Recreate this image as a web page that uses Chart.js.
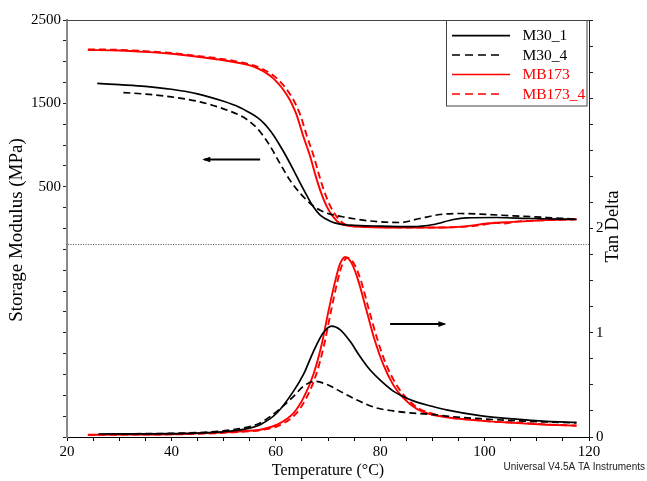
<!DOCTYPE html>
<html>
<head>
<meta charset="utf-8">
<script src="https://cdn.jsdelivr.net/npm/chart.js@4.4.1/dist/chart.umd.min.js"></script>
<style>
html,body{margin:0;padding:0;background:#fff;}
canvas{display:block;}
</style>
</head>
<body>
<canvas id="c" width="647" height="481"></canvas>
<script>
// ---- Data ----
const seriesNames = ["M30_1", "M30_4", "MB173", "MB173_4"];

// Storage modulus (MPa) vs temperature (°C)
const m30_1_E_T = [25.8,30,35,40,45,50,53,55.1,56.5,57.6,58.6,59.5,61.5,63.4,64.7,65.9,67.2,68.5,70.4,72.3,74.2,80,86.3,90.2,94,96.6,102.3,108.7,117.6];
const m30_1_E   = [1740,1725,1705,1670,1615,1525,1455,1385,1330,1270,1200,1125,920,700,540,400,260,160,88,52,40,28,22,48,108,128,132,120,108];

const m30_4_E_T = [30.8,35,40,45,48,51.3,53,54.4,55.8,57,58.9,60.8,62.7,64.7,66.6,68.5,70.4,73.6,76.7,80,83.8,87.6,91.5,95.3,99.1,105.5,111.9,117.6];
const m30_4_E   = [1630,1612,1578,1525,1475,1405,1360,1310,1240,1160,990,780,580,420,300,220,172,132,100,80,72,120,168,180,172,152,132,112];

const mb173_E_T = [24,30,35,40,45,50,53,55,56.5,57.6,58.6,59.5,60.3,61,61.8,62.7,63.4,64,65.3,66.6,67.5,68.5,69.8,71,72.3,74.2,77,80,86,92.7,96.6,100.4,105.5,111.9,117.6];
const mb173_E   = [2140,2134,2118,2095,2060,2018,1985,1955,1920,1885,1845,1800,1750,1700,1630,1540,1450,1360,1100,860,660,460,260,140,60,28,18,12,10,12,28,60,80,100,112];

const mb173_4_E_T = [24,30,35,40,45,50,53.5,55.7,57.2,58.3,59.3,60.2,61,61.7,62.5,63.4,64.1,64.7,66,67.3,68.2,69.2,70.5,71.7,73,75,78,82,88,93,96.5,100,102,103.5,106,112,117.6];
const mb173_4_E   = [2148,2142,2126,2104,2070,2030,1990,1955,1920,1885,1845,1800,1750,1700,1630,1540,1450,1360,1100,860,660,460,260,140,60,30,20,14,12,14,22,48,70,58,82,100,110];

// Tan delta vs temperature (°C)
const m30_1_tan_T = [26,35,40,45,50,55,57,60.2,63.4,65.3,67.2,69.1,70.7,72.3,74.2,76.1,78,80,82.5,85,87,89.5,92.7,99.1,105.5,111.9,117.6];
const m30_1_tan   = [0.029,0.03,0.032,0.038,0.05,0.085,0.118,0.23,0.44,0.6,0.82,1.0,1.063,1.03,0.92,0.775,0.647,0.545,0.44,0.375,0.335,0.3,0.26,0.205,0.173,0.15,0.14];

const m30_4_tan_T = [30.8,40,45,50,55,57,60.2,63.4,65.3,67.5,69.8,72.9,76.1,79.3,82.5,85.7,89.5,92.7,99.1,105.5,111.9,117.6];
const m30_4_tan   = [0.03,0.035,0.042,0.06,0.1,0.135,0.246,0.39,0.487,0.535,0.503,0.423,0.342,0.279,0.25,0.232,0.218,0.2,0.176,0.157,0.144,0.135];

const mb173_tan_T = [24,30,40,45,50,55,57,60.2,63.4,65.3,67.2,68.8,70.1,71.4,72.3,73.3,74.5,75.8,77.4,79,80.6,82.5,84.4,87,89.5,92.7,99.1,105.5,111.9,117.6];
const mb173_tan   = [0.022,0.023,0.027,0.035,0.045,0.06,0.07,0.118,0.23,0.375,0.6,0.89,1.21,1.5,1.66,1.727,1.67,1.5,1.21,0.92,0.695,0.5,0.375,0.27,0.22,0.19,0.157,0.135,0.118,0.108];

const mb173_4_tan_T = [24,30,40,45,50,55,57.5,60.6,63.8,65.7,67.6,69.2,70.5,71.8,72.7,73.7,74.9,76.3,77.9,79.5,81.1,83,84.9,87.5,90,92.7,99.1,102,105.5,111.9,117.6];
const mb173_4_tan   = [0.02,0.022,0.025,0.03,0.04,0.055,0.07,0.11,0.22,0.36,0.58,0.87,1.19,1.49,1.65,1.72,1.67,1.5,1.21,0.93,0.70,0.51,0.38,0.27,0.225,0.19,0.16,0.145,0.14,0.12,0.11];

// Axis ticks
const xTickLabels = [20, 40, 60, 80, 100, 120];
const modulusTickLabels = [500, 1500, 2500];
const tanTickLabels = [0, 1, 2];

// ---- Build ----
const pts = (xs, ys) => xs.map((x, i) => ({x: x, y: ys[i]}));
const RED = '#ff0000', BLACK = '#000000';
const DASH = [7, 4];
const serif = "'Liberation Serif', 'Times New Roman', serif";

function ds(label, xs, ys, color, dashed, axis, inLegend) {
  return {
    label: label, data: pts(xs, ys), yAxisID: axis,
    borderColor: color, backgroundColor: color, borderWidth: color === RED ? 1.9 : 1.7,
    borderDash: dashed ? DASH : [], showLine: true, pointRadius: 0,
    cubicInterpolationMode: 'monotone', fill: false, inLegend: inLegend
  };
}

const datasets = [
  ds(seriesNames[0], m30_1_E_T, m30_1_E, BLACK, false, 'y', true),
  ds(seriesNames[1], m30_4_E_T, m30_4_E, BLACK, true, 'y', true),
  ds(seriesNames[2], mb173_E_T, mb173_E, RED, false, 'y', true),
  ds(seriesNames[3], mb173_4_E_T, mb173_4_E, RED, true, 'y', true),
  ds(seriesNames[0] + ' tan', m30_1_tan_T, m30_1_tan, BLACK, false, 'y2', false),
  ds(seriesNames[1] + ' tan', m30_4_tan_T, m30_4_tan, BLACK, true, 'y2', false),
  ds(seriesNames[2] + ' tan', mb173_tan_T, mb173_tan, RED, false, 'y2', false),
  ds(seriesNames[3] + ' tan', mb173_4_tan_T, mb173_4_tan, RED, true, 'y2', false)
];

const decor = {
  id: 'decor',
  afterDraw(chart) {
    const ctx = chart.ctx, a = chart.chartArea;
    const sx = chart.scales.x, sy = chart.scales.y, s2 = chart.scales.y2;
    ctx.save();
    // top frame line
    ctx.strokeStyle = '#444'; ctx.lineWidth = 1; ctx.setLineDash([]);
    ctx.beginPath(); ctx.moveTo(a.left, a.top + 0.5); ctx.lineTo(a.right, a.top + 0.5); ctx.stroke();
    // dotted separator
    const yd = Math.round(sy.getPixelForValue(-190)) + 0.5;
    ctx.strokeStyle = '#666'; ctx.setLineDash([1.2, 1.3]);
    ctx.beginPath(); ctx.moveTo(a.left + 1, yd); ctx.lineTo(a.right, yd); ctx.stroke();
    ctx.setLineDash([]);
    // arrows
    function arrow(x1, y1, x2, y2) {
      ctx.strokeStyle = '#000'; ctx.fillStyle = '#000'; ctx.lineWidth = 2;
      ctx.beginPath(); ctx.moveTo(x1, y1); ctx.lineTo(x2, y2); ctx.stroke();
      const dir = Math.sign(x2 - x1);
      ctx.beginPath(); ctx.moveTo(x2 + dir * 2, y2); ctx.lineTo(x2 - dir * 6, y2 - 2.8); ctx.lineTo(x2 - dir * 6, y2 + 2.8); ctx.closePath(); ctx.fill();
    }
    const ya = sy.getPixelForValue(828);
    arrow(sx.getPixelForValue(57), ya, sx.getPixelForValue(46.3), ya);
    const yb = s2.getPixelForValue(1.083);
    arrow(sx.getPixelForValue(81.9), yb, sx.getPixelForValue(92.3), yb);
    // legend box
    const lx = 446.5, ly = a.top + 0.5, lw = 140.5, lh = 85.5;
    ctx.fillStyle = '#fff'; ctx.fillRect(lx, ly, lw, lh);
    ctx.strokeStyle = '#444'; ctx.lineWidth = 1; ctx.strokeRect(lx, ly, lw, lh);
    const rows = [35.7, 55, 74.5, 94];
    let r = 0;
    chart.data.datasets.forEach(d => {
      if (!d.inLegend) return;
      const y = rows[r++];
      ctx.strokeStyle = d.borderColor; ctx.lineWidth = 1.7;
      ctx.setLineDash(d.borderDash.length ? [8, 5] : []);
      ctx.beginPath(); ctx.moveTo(452, y); ctx.lineTo(d.borderDash.length ? 500 : 510, y); ctx.stroke();
      ctx.setLineDash([]);
      ctx.fillStyle = d.borderColor; ctx.font = "15.5px " + serif;
      ctx.textBaseline = 'middle'; ctx.textAlign = 'left';
      ctx.fillText(d.label, 522.5, y + 0.5);
    });
    // axis titles
    ctx.fillStyle = '#000'; ctx.textAlign = 'center'; ctx.textBaseline = 'middle';
    ctx.font = "16px " + serif;
    ctx.fillText('Temperature (°C)', (a.left + a.right) / 2, 471);
    ctx.save(); ctx.translate(17, 230); ctx.rotate(-Math.PI / 2);
    ctx.font = "19px " + serif; ctx.fillText('Storage Modulus (MPa)', 0, 0); ctx.restore();
    ctx.save(); ctx.translate(613, 226.5); ctx.rotate(-Math.PI / 2);
    ctx.font = "18.5px " + serif; ctx.fillText('Tan Delta', 0, 0); ctx.restore();
    // footer
    ctx.font = "10px 'Liberation Sans', Arial, sans-serif"; ctx.textAlign = 'right';
    ctx.fillStyle = '#222';
    ctx.fillText('Universal V4.5A TA Instruments', 645, 467);
    ctx.restore();
  }
};

const tickFont = {family: serif, size: 15};

new Chart(document.getElementById('c'), {
  type: 'scatter',
  data: {datasets: datasets},
  options: {
    responsive: false, animation: false, devicePixelRatio: 1,
    layout: {padding: {top: 20, left: 0, right: 0, bottom: 0}},
    plugins: {legend: {display: false}, tooltip: {enabled: false}},
    scales: {
      x: {
        type: 'linear', position: 'bottom', min: 20, max: 120,
        ticks: {stepSize: 5, autoSkip: false, maxRotation: 0, padding: 2, color: '#000', font: tickFont,
          callback: v => xTickLabels.includes(v) ? String(v) : ''},
        grid: {drawOnChartArea: false, drawTicks: true, tickLength: 4, tickColor: '#000'},
        border: {color: '#000', width: 1},
        afterFit: s => { s.height = 44; }
      },
      y: {
        type: 'linear', position: 'left', min: -2500, max: 2500,
        ticks: {stepSize: 250, autoSkip: false, padding: 2, color: '#000', font: tickFont,
          callback: v => modulusTickLabels.includes(v) ? String(v) : ''},
        grid: {drawOnChartArea: false, drawTicks: true, tickLength: 4, tickColor: '#222'},
        border: {color: '#8a8a8a', width: 2},
        afterFit: s => { s.width = 67; }
      },
      y2: {
        type: 'linear', position: 'right', min: 0, max: 4,
        ticks: {stepSize: 0.25, autoSkip: false, padding: 3, color: '#000', font: tickFont,
          callback: v => tanTickLabels.includes(v) ? String(v) : ''},
        grid: {drawOnChartArea: false, drawTicks: true, tickLength: 4, tickColor: '#222'},
        border: {color: '#222', width: 1},
        afterFit: s => { s.width = 58; }
      }
    }
  },
  plugins: [decor]
});
</script>
</body>
</html>
